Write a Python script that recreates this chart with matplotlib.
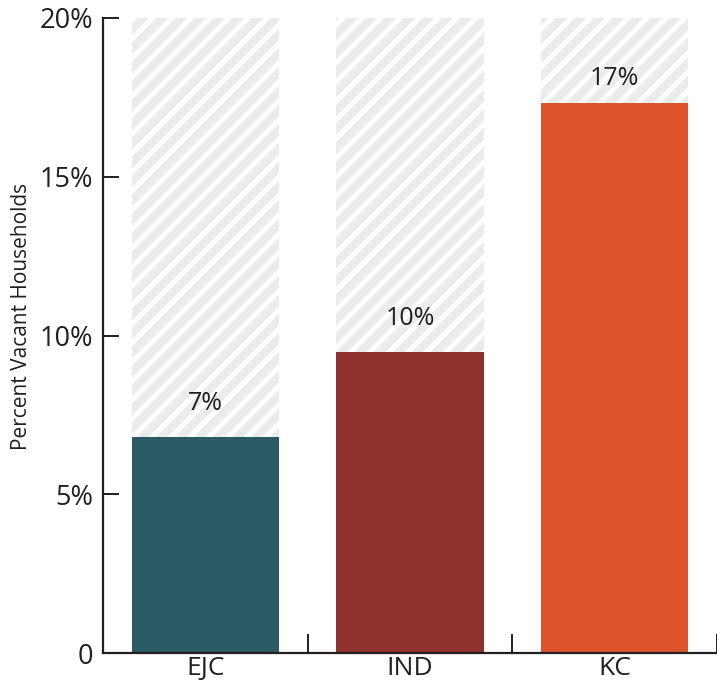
import matplotlib
matplotlib.use("Agg")
import numpy as np
import matplotlib.pyplot as plt
from matplotlib.ticker import FixedLocator
from matplotlib.patches import Rectangle
from matplotlib.collections import LineCollection
from matplotlib.transforms import IdentityTransform

# Data
categories = ["EJC", "IND", "KC"]
vacancy_pct = [6.8, 9.48, 17.32]
value_labels = ["7%", "10%", "17%"]
bar_colors = ["#2a5a63", "#8f322d", "#dc532b"]
y_ticks = [0, 5, 10, 15, 20]
y_tick_labels = ["0", "5%", "10%", "15%", "20%"]
y_max = 20

DPI = 100
W, H = 717, 685
TEXT = "#231f20"
STRIPE_BG = "#ebebeb"

plt.rcParams["font.family"] = ["Open Sans", "DejaVu Sans"]

fig = plt.figure(figsize=(W / DPI, H / DPI), dpi=DPI)
ax = fig.add_axes([103 / W, 32 / H, 614 / W, 635 / H])

x = np.arange(len(categories))
width = 0.72

ax.set_xlim(-0.5, 2.5)
ax.set_ylim(0, y_max)

ax.bar(x, vacancy_pct, width=width, color=bar_colors, linewidth=0, zorder=2)

# Striped headroom above each bar, up to the axis maximum.
# Diagonal white stripes are drawn in pixel space and clipped to each box.
step = 19.0
offsets = np.arange(-H, W + H, step)
segs = [[(o, 0), (o + H, H)] for o in offsets]
for xi, v in zip(x, vacancy_pct):
    box = Rectangle((xi - width / 2, v), width, y_max - v,
                    facecolor=STRIPE_BG, edgecolor="none", zorder=1)
    ax.add_patch(box)
    stripes = LineCollection(segs, colors="white", linewidths=3.7,
                             transform=IdentityTransform(), zorder=1.5)
    ax.add_collection(stripes, autolim=False)
    stripes.set_clip_path(box)

for xi, v, lab in zip(x, vacancy_pct, value_labels):
    ax.text(xi, min(v + 1.05, 18.1), lab, ha="center", va="center",
            fontsize=18, color=TEXT, zorder=3)

ax.set_yticks(y_ticks)
ax.set_yticklabels(y_tick_labels)
ax.tick_params(axis="y", direction="in", length=11.5, width=1.4, color=TEXT,
               labelsize=19.5, labelcolor=TEXT, pad=7)

ax.set_xticks(x)
ax.set_xticklabels(categories)
ax.xaxis.set_minor_locator(FixedLocator([0.5, 1.5, 2.5]))
ax.tick_params(axis="x", which="major", length=0, labelsize=19,
               labelcolor=TEXT, pad=2.5)
ax.tick_params(axis="x", which="minor", direction="in", length=14,
               width=1.4, color=TEXT)

ax.set_ylabel("Percent Vacant Households", fontsize=15, color=TEXT,
              va="center")
ax.yaxis.set_label_coords(-0.132, 0.53)

for side in ("top", "right"):
    ax.spines[side].set_visible(False)
for side in ("left", "bottom"):
    ax.spines[side].set_linewidth(1.6)
    ax.spines[side].set_color(TEXT)
    ax.spines[side].set_zorder(4)

fig.savefig("out.png", dpi=DPI)
